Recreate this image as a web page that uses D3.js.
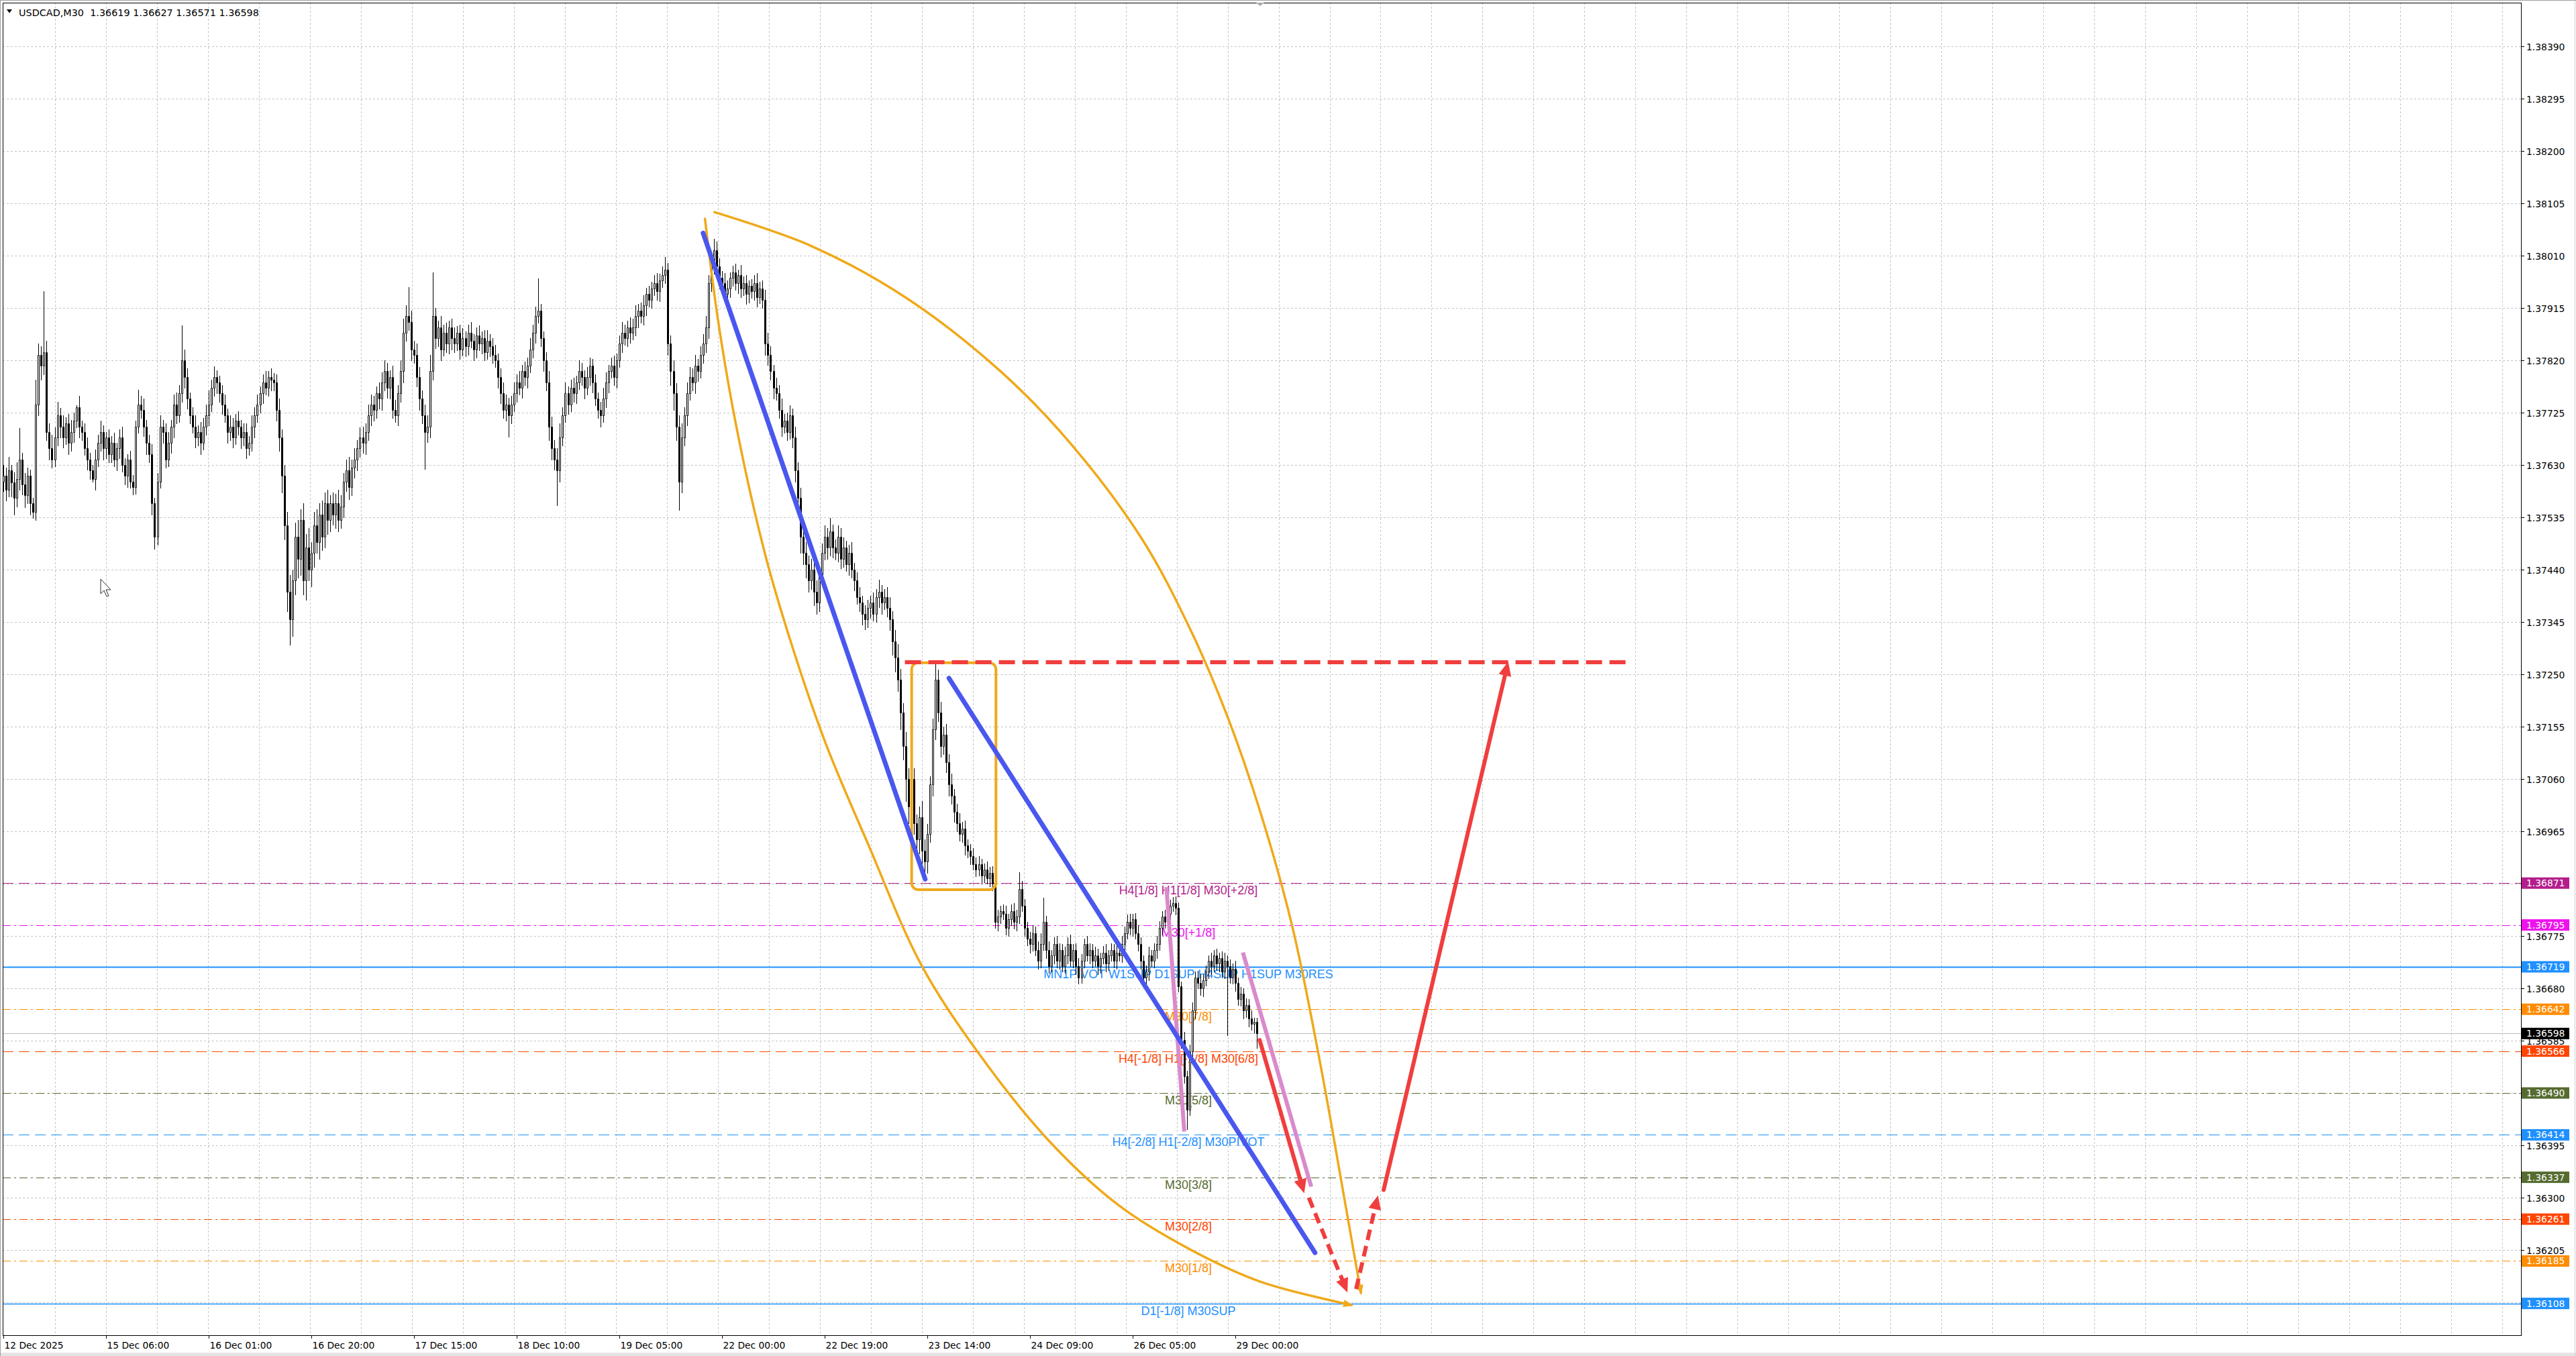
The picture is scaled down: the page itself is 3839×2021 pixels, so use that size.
<!DOCTYPE html>
<html><head><meta charset="utf-8">
<script src="https://cdn.jsdelivr.net/npm/d3@7/dist/d3.min.js"></script>
<style>html,body{margin:0;padding:0;background:#fff;overflow:hidden}</style>
</head><body>
<svg id="chart" width="3839" height="2021" xmlns="http://www.w3.org/2000/svg"></svg>
<script>
// ---------------- DATA ----------------
const headerText = "USDCAD,M30  1.36619 1.36627 1.36571 1.36598";
const timeLabels = ["12 Dec 2025","15 Dec 06:00","16 Dec 01:00","16 Dec 20:00","17 Dec 15:00","18 Dec 10:00","19 Dec 05:00","22 Dec 00:00","22 Dec 19:00","23 Dec 14:00","24 Dec 09:00","26 Dec 05:00","29 Dec 00:00"];
const timeLabelBars = [0,38,76,114,152,190,228,266,304,342,380,418,456];
const priceTicks = [1.38390,1.38295,1.38200,1.38105,1.38010,1.37915,1.37820,1.37725,1.37630,1.37535,1.37440,1.37345,1.37250,1.37155,1.37060,1.36965,1.36870,1.36775,1.36680,1.36585,1.36490,1.36395,1.36300,1.36205,1.36110];

// M30 candles, values in points (1e-5) above 1.36000
const firstOpen = 1600;
const closes = [
1610,1585,1620,1598,1570,1605,1640,1595,1575,1610,
1560,1545,1740,1830,1810,1835,1690,1660,1640,1680,
1720,1700,1680,1705,1670,1690,1710,1735,1700,1690,
1660,1640,1620,1605,1640,1670,1690,1660,1680,1650,
1670,1640,1660,1680,1630,1610,1640,1600,1590,1700,
1740,1730,1700,1670,1650,1560,1500,1600,1700,1690,
1640,1670,1700,1740,1720,1760,1820,1790,1750,1720,
1700,1680,1690,1670,1700,1720,1740,1770,1790,1780,
1760,1740,1720,1690,1700,1680,1710,1700,1680,1690,
1660,1670,1700,1720,1740,1760,1780,1770,1790,1785,
1780,1730,1680,1610,1520,1400,1350,1420,1500,1460,
1530,1420,1480,1440,1470,1520,1490,1540,1500,1560,
1530,1560,1540,1560,1530,1555,1600,1620,1590,1625,
1640,1660,1680,1670,1690,1720,1740,1730,1760,1750,
1780,1800,1770,1790,1730,1720,1760,1800,1870,1900,
1890,1840,1830,1790,1750,1720,1690,1700,1800,1900,
1860,1880,1840,1870,1850,1880,1860,1850,1870,1840,
1860,1845,1870,1855,1840,1865,1850,1860,1835,1855,
1845,1830,1820,1790,1760,1730,1740,1720,1740,1760,
1780,1770,1800,1790,1810,1840,1870,1900,1910,1860,
1820,1780,1700,1660,1640,1620,1680,1720,1760,1740,
1770,1760,1780,1800,1790,1770,1790,1810,1780,1750,
1730,1720,1750,1780,1800,1810,1790,1820,1850,1870,
1860,1880,1870,1880,1900,1910,1900,1920,1940,1930,
1950,1960,1945,1965,1975,1985,1850,1800,1760,1700,
1600,1680,1720,1760,1790,1780,1810,1800,1830,1850,
1880,1960,1995,2020,1990,1970,1960,1940,1950,1970,
1980,1960,1975,1950,1960,1940,1955,1945,1960,1935,
1950,1930,1850,1830,1800,1770,1760,1730,1700,1710,
1690,1720,1680,1620,1570,1500,1470,1450,1420,1440,
1400,1380,1430,1470,1500,1480,1510,1480,1470,1500,
1460,1480,1450,1470,1440,1420,1390,1380,1360,1350,
1370,1380,1360,1390,1400,1380,1390,1370,1350,1310,
1280,1240,1180,1120,1060,1010,1060,980,950,990,
930,910,960,1050,1150,1240,1180,1120,1140,1090,
1050,1030,1000,980,960,970,940,930,920,905,
895,905,885,895,880,890,870,800,810,820,
815,790,805,820,800,810,860,830,790,770,
760,780,750,730,760,800,750,720,740,760,
730,750,720,740,760,730,750,720,700,730,
760,740,750,730,740,720,735,745,725,740,
750,730,745,740,760,780,800,790,805,780,
760,730,700,710,740,730,750,760,790,810,
800,815,830,835,826,684,586,520,460,566,
640,700,690,680,695,710,730,720,740,725,
735,710,730,720,700,715,690,660,670,640,
650,625,615,619,598];
const upperWicks = [
20,15,25,10,18,30,57,12,20,15,
12,10,45,20,15,111,20,15,25,18,
24,14,20,12,18,22,15,4,20,10,
15,20,12,10,18,15,20,12,10,15,
12,18,10,15,20,12,10,15,12,10,
27,15,20,12,15,18,10,15,20,12,
15,20,12,18,22,15,63,20,15,12,
15,20,12,18,15,20,25,15,19,12,
12,15,18,12,20,15,12,18,12,15,
15,12,20,15,18,12,15,20,10,15,
12,15,20,15,20,25,30,20,25,30,
20,30,25,35,20,25,30,20,25,20,
25,15,20,18,25,20,15,20,25,15,
20,15,18,20,15,20,18,15,12,20,
18,20,15,12,20,18,15,20,25,20,
53,20,15,20,18,15,20,20,30,79,
15,12,20,15,18,12,15,20,12,15,
18,12,15,20,12,15,18,12,15,20,
12,15,18,12,15,20,18,12,15,20,
15,20,12,18,15,20,15,18,58,12,
12,15,20,18,15,20,25,15,20,12,
15,18,12,20,15,12,18,15,12,15,
12,15,20,18,12,15,18,12,15,20,
15,12,18,15,20,12,15,18,12,15,
12,15,18,12,15,22,12,15,20,18,
20,25,15,20,18,15,20,12,15,18,
20,15,20,20,15,15,12,18,15,10,
12,15,10,18,12,15,10,12,15,18,
12,15,18,20,15,12,18,15,20,12,
15,18,12,20,15,18,25,20,15,20,
18,20,15,18,20,15,24,12,15,20,
15,18,12,15,20,12,15,18,12,15,
15,12,18,15,22,12,15,18,20,15,
20,25,20,18,25,20,40,20,15,20,
30,20,18,15,20,30,18,20,15,20,
15,20,12,15,18,12,15,10,12,15,
12,15,10,12,15,10,12,15,12,10,
12,15,10,12,15,12,31,15,12,10,
12,15,12,15,20,45,12,15,10,12,
15,12,10,15,12,18,10,12,15,12,
10,15,12,10,15,12,10,12,15,10,
12,10,15,12,15,12,14,15,10,12,
15,12,10,12,15,10,12,15,12,10,
12,10,11,11,12,10,8,15,10,12,
15,10,12,15,10,12,10,15,10,12,
10,12,15,10,12,10,15,10,12,10,
12,10,15,8,8];
const lowerWicks = [
18,20,12,25,30,15,20,18,22,15,
20,11,15,20,25,15,15,20,15,12,
15,20,18,12,20,15,18,12,20,15,
12,18,15,6,20,12,15,20,18,15,
15,12,20,18,12,15,20,12,14,12,
12,15,18,20,15,20,22,15,12,20,
15,12,18,20,15,12,15,20,18,15,
12,18,15,20,12,15,18,12,15,20,
15,18,12,20,15,18,12,15,20,15,
18,12,15,20,12,15,18,12,15,20,
15,20,25,30,25,35,47,30,25,35,
30,25,35,20,30,25,20,30,25,20,
25,20,18,25,20,15,20,18,22,15,
18,20,15,18,20,15,18,20,15,18,
20,15,18,20,15,12,18,15,20,15,
15,20,15,18,20,15,67,18,20,15,
18,15,20,12,15,18,20,15,12,18,
12,18,15,12,20,15,12,18,15,12,
18,15,12,20,18,15,20,39,15,12,
15,12,18,15,20,12,15,18,12,15,
20,15,25,20,18,63,20,15,12,18,
12,15,18,12,15,20,12,15,18,12,
15,20,12,15,18,12,15,20,12,15,
12,15,18,12,15,20,12,15,18,12,
15,12,15,18,12,15,20,25,30,25,
52,20,15,18,12,15,20,18,12,15,
15,20,15,18,12,20,15,12,18,15,
15,12,18,15,12,18,15,12,15,18,
12,15,20,18,15,20,12,15,18,12,
15,12,18,20,25,30,20,25,20,15,
25,20,15,18,12,20,15,18,12,15,
18,15,12,20,15,18,12,15,20,18,
15,18,12,15,18,20,12,15,20,25,
25,20,30,25,40,30,30,20,25,25,
25,25,20,15,20,18,15,20,15,18,
20,15,18,15,12,15,18,12,15,10,
12,10,15,12,10,15,12,10,15,12,
10,12,15,10,12,15,12,10,15,12,
15,12,10,15,12,10,15,12,10,15,
12,15,10,12,15,10,12,15,12,10,
12,10,15,12,10,15,12,10,15,12,
10,12,15,10,12,15,10,12,15,10,
12,15,10,12,15,10,12,15,10,12,
10,12,15,10,12,10,15,12,36,10,
12,15,10,12,15,10,12,15,10,12,
15,10,12,125,10,12,15,10,12,15,
12,15,10,15,27];

// Horizontal levels
const bidPrice = 1.36598;
const levelPrices = [1.36871,1.36795,1.36719,1.36642,1.36566,1.36490,1.36414,1.36337,1.36261,1.36185,1.36108];
const levelLabels = ["H4[1/8] H1[1/8] M30[+2/8]","M30[+1/8]","MN1PIVOT W1SUP D1SUP H4SUP H1SUP M30RES","M30[7/8]","H4[-1/8] H1[-1/8] M30[6/8]","M30[5/8]","H4[-2/8] H1[-2/8] M30PIVOT","M30[3/8]","M30[2/8]","M30[1/8]","D1[-1/8] M30SUP"];
const levelLabelBar = 438.6;

// Drawn objects, [bar, points above 1.36000]
const blueTrend1 = [[259,2051],[341.2,878]];
const blueTrend2 = [[350,1243],[485.5,200]];
const pinkTrend1 = [[430.5,864],[437.1,420]];
const pinkTrend2 = [[458.8,745],[484.1,320]];
const redSolidDown = [[465.0,586],[481.5,308]];
const redDashDown = [[483.2,300],[497.5,128]];
const redDashUp = [[500.7,134],[508.8,304]];
const redSolidUp = [[510.9,314],[557,1273]];
const redDashLevel = [[333.7,1272],[602.6,1272]];
const orangeBox = [[336.2,1271],[367.4,859]];
const leftArc = [[259.7,2077],[264.5,1894],[271.5,1695],[281.9,1469],[292.3,1296],[304.5,1123],[320.4,938],[339.5,725],[360.4,566],[386.5,406],[412.6,287],[438.9,207],[465.0,148],[499.0,105]];
const rightArc = [[263.2,2089],[299.3,2027],[334.3,1933],[369.1,1800],[395.2,1668],[421.4,1496],[438.9,1336],[452.8,1177],[465.0,1004],[477.1,792],[487.6,539],[496.3,300],[502.5,127]];

// ---------------- STYLE ----------------
const levelColors = ["#B41E8C","#EE12EE","#1E90FF","#FF8C00","#FF4500","#556B2F","#1E90FF","#556B2F","#FF4500","#FF8C00","#1E90FF"];
const levelDash = ["16,8","12,5,3,5",null,"12,5,3,5","16,8","12,5,3,5","16,8","12,5,3,5","12,5,3,5","12,5,3,5",null];
const levelWidth = [1.2,1.2,2,1.2,1.2,1.2,1.2,1.2,1.2,1.2,1.4];
const C_BLUE = "#4A57EE", C_PINK = "#DA8ACB", C_RED = "#F03E3E", C_ORANGE = "#EFA91A";
const AX_FONT = "'DejaVu Sans', Verdana, sans-serif";
const LBL_FONT = "'Liberation Sans', Arial, sans-serif";

// ---------------- CHART ----------------
const pr = v => 1.36 + v / 1e5;
const F = {l: 4, t: 4, r: 3757, b: 1990};
const x = d3.scaleLinear().domain([0, 456]).range([5, 1841]);
const y = d3.scaleLinear().domain([1.36110, 1.38390]).range([1941, 69]);

const svg = d3.select("#chart");
svg.append("rect").attr("width", 3839).attr("height", 2021).attr("fill", "#fff");
svg.append("rect").attr("x", 0).attr("y", 2016).attr("width", 3839).attr("height", 5).attr("fill", "#e4e4e4");
svg.append("line").attr("x1", 3837.5).attr("x2", 3837.5).attr("y1", 0).attr("y2", 2021).attr("stroke", "#d0d0d0");
svg.append("line").attr("x1", 0.5).attr("x2", 0.5).attr("y1", 0).attr("y2", 2021).attr("stroke", "#a0a0a0");
svg.append("line").attr("x1", 0).attr("x2", 3839).attr("y1", 0.5).attr("y2", 0.5).attr("stroke", "#a0a0a0");

svg.append("defs").append("clipPath").attr("id", "plotclip")
  .append("rect").attr("x", F.l).attr("y", F.t).attr("width", F.r - F.l).attr("height", F.b - F.t);
const plot = svg.append("g").attr("clip-path", "url(#plotclip)");

// grid
const grid = plot.append("g").attr("stroke", "#c4c4c4").attr("stroke-dasharray", "3,3").attr("shape-rendering", "crispEdges");
priceTicks.forEach(p => {
  const yy = Math.round(y(p)) + 0.5;
  grid.append("line").attr("x1", F.l).attr("x2", F.r).attr("y1", yy).attr("y2", yy);
});
for (let k = 0; k < 49; k++) {
  const gx = Math.round(82 + k * 75.98) + 0.5;
  grid.append("line").attr("x1", gx).attr("x2", gx).attr("y1", F.t).attr("y2", F.b);
}

// bid line
plot.append("line").attr("x1", F.l).attr("x2", F.r)
  .attr("y1", Math.round(y(bidPrice)) + 0.5).attr("y2", Math.round(y(bidPrice)) + 0.5)
  .attr("stroke", "#bdbdbd").attr("stroke-width", 1.2);

// level lines
levelPrices.forEach((p, k) => {
  const yy = Math.round(y(p)) + 0.5;
  const ln = plot.append("line").attr("x1", F.l).attr("x2", F.r).attr("y1", yy).attr("y2", yy)
    .attr("stroke", levelColors[k]).attr("stroke-width", levelWidth[k]);
  if (levelDash[k]) ln.attr("stroke-dasharray", levelDash[k]);
});
// level labels
levelPrices.forEach((p, k) => {
  plot.append("text").attr("x", x(levelLabelBar)).attr("y", y(p) + 17)
    .attr("text-anchor", "middle").attr("font-family", LBL_FONT).attr("font-size", 18)
    .attr("fill", levelColors[k]).text(levelLabels[k]);
});

// candles
const cg = plot.append("g");
closes.forEach((c, i) => {
  const o = i === 0 ? firstOpen : closes[i - 1];
  const hi = Math.max(o, c) + upperWicks[i];
  const lo = Math.min(o, c) - lowerWicks[i];
  const r = Math.round(x(i));
  cg.append("line").attr("x1", r + 0.5).attr("x2", r + 0.5)
    .attr("y1", Math.round(y(pr(hi)))).attr("y2", Math.round(y(pr(lo))) + 1)
    .attr("stroke", "#000").attr("stroke-width", 1);
  const top = Math.round(y(pr(Math.max(o, c)))) + 0.5;
  const bot = Math.round(y(pr(Math.min(o, c)))) + 0.5;
  const x0 = r - 0.5, x1 = r + 1.5;
  cg.append("path").attr("d", `M${x0},${top}H${x1}V${bot}H${x0}Z`)
    .attr("fill", c >= o ? "#fff" : "#000").attr("stroke", "#000").attr("stroke-width", 1);
});

// objects
const P = d => [x(d[0]), y(pr(d[1]))];
const obj = plot.append("g");

// orange box
{
  const a = P(orangeBox[0]), b = P(orangeBox[1]);
  obj.append("rect").attr("x", a[0]).attr("y", a[1]).attr("width", b[0] - a[0]).attr("height", b[1] - a[1])
    .attr("rx", 10).attr("fill", "none").attr("stroke", C_ORANGE).attr("stroke-width", 4);
}

// arcs
const arcLine = d3.line().x(d => x(d[0])).y(d => y(pr(d[1]))).curve(d3.curveCatmullRom.alpha(0.5));
function headPoly(g, tx, ty, ux, uy, len, wid, color) {
  const bx = tx - ux * len, by = ty - uy * len;
  const nx = -uy, ny = ux;
  g.append("polygon").attr("points",
    `${tx},${ty} ${bx + nx * wid / 2},${by + ny * wid / 2} ${bx - nx * wid / 2},${by - ny * wid / 2}`)
    .attr("fill", color);
}
[leftArc, rightArc].forEach(arc => {
  const path = obj.append("path").attr("d", arcLine(arc)).attr("fill", "none")
    .attr("stroke", C_ORANGE).attr("stroke-width", 3.5).attr("stroke-linecap", "round");
  const node = path.node();
  const L = node.getTotalLength();
  const e = node.getPointAtLength(L), s = node.getPointAtLength(L - 10);
  const d = Math.hypot(e.x - s.x, e.y - s.y);
  headPoly(obj, e.x + (e.x - s.x) / d * 3, e.y + (e.y - s.y) / d * 3, (e.x - s.x) / d, (e.y - s.y) / d, 15, 11, C_ORANGE);
});

// red dashed level
{
  const a = P(redDashLevel[0]), b = P(redDashLevel[1]);
  obj.append("line").attr("x1", a[0]).attr("y1", a[1]).attr("x2", b[0]).attr("y2", b[1])
    .attr("stroke", C_RED).attr("stroke-width", 6).attr("stroke-dasharray", "24,11");
}

// trend lines
function seg(pts, color, w, cap) {
  const a = P(pts[0]), b = P(pts[1]);
  obj.append("line").attr("x1", a[0]).attr("y1", a[1]).attr("x2", b[0]).attr("y2", b[1])
    .attr("stroke", color).attr("stroke-width", w).attr("stroke-linecap", cap);
}
seg(pinkTrend1, C_PINK, 6, "butt");
seg(pinkTrend2, C_PINK, 6, "butt");
seg(blueTrend1, C_BLUE, 7, "round");
seg(blueTrend2, C_BLUE, 7, "round");

// arrows
function arrow(pts, dashed) {
  const a = P(pts[0]), b = P(pts[1]);
  const dx = b[0] - a[0], dy = b[1] - a[1], len = Math.hypot(dx, dy);
  const ux = dx / len, uy = dy / len;
  const hl = 21, hw = 19;
  const bx = b[0] - ux * (hl - 2), by = b[1] - uy * (hl - 2);
  const ln = obj.append("line").attr("x1", a[0]).attr("y1", a[1]).attr("x2", bx).attr("y2", by)
    .attr("stroke", C_RED).attr("stroke-width", 6).attr("stroke-linecap", dashed ? "butt" : "round");
  if (dashed) ln.attr("stroke-dasharray", "16,9");
  headPoly(obj, b[0], b[1], ux, uy, hl, hw, C_RED);
}
arrow(redSolidDown, false);
arrow(redDashDown, true);
arrow(redDashUp, true);
arrow(redSolidUp, false);

// frame
svg.append("rect").attr("x", F.l + 0.5).attr("y", F.t + 0.5).attr("width", F.r - F.l).attr("height", F.b - F.t)
  .attr("fill", "none").attr("stroke", "#000").attr("stroke-width", 1);

// price axis ticks
const ax = svg.append("g").attr("font-family", AX_FONT).attr("font-size", 13.9);
priceTicks.forEach(p => {
  const yy = Math.round(y(p)) + 0.5;
  ax.append("line").attr("x1", F.r).attr("x2", F.r + 5).attr("y1", yy).attr("y2", yy).attr("stroke", "#000");
  ax.append("text").attr("x", 3765).attr("y", yy).attr("dy", "0.36em").attr("fill", "#000").text(d3.format(".5f")(p));
});
// price boxes
const boxPrices = levelPrices.concat([bidPrice]);
const boxColors = levelColors.concat(["#000000"]);
boxPrices.forEach((p, k) => {
  const yy = y(p);
  ax.append("rect").attr("x", 3758).attr("y", yy - 8.5).attr("width", 71).attr("height", 17).attr("fill", boxColors[k]);
  ax.append("text").attr("x", 3765).attr("y", yy).attr("dy", "0.36em").attr("fill", "#fff").text(d3.format(".5f")(p));
});

// time axis
timeLabelBars.forEach((b, k) => {
  const xx = Math.round(x(b)) + 0.5;
  ax.append("line").attr("x1", xx).attr("x2", xx).attr("y1", F.b).attr("y2", F.b + 5).attr("stroke", "#000");
  ax.append("text").attr("x", xx + 1).attr("y", 2010).attr("font-size", 13.8).attr("fill", "#000").text(timeLabels[k]);
});

// header
svg.append("polygon").attr("points", "10,14 18,14 14,19.5").attr("fill", "#000");
svg.append("text").attr("x", 28).attr("y", 23.5).attr("font-family", AX_FONT).attr("font-size", 14.4)
  .attr("fill", "#000").style("white-space", "pre").attr("xml:space", "preserve").text(headerText);

// shift marker
svg.append("polygon").attr("points", "1872,4 1884,4 1878,9").attr("fill", "#a8a8a8");

// mouse cursor
svg.append("polygon")
  .attr("points", "150,863 150,885 155,880 159,889 162,888 158,879 165,879")
  .attr("fill", "#fff").attr("stroke", "#333").attr("stroke-width", 1);
</script>
</body></html>
